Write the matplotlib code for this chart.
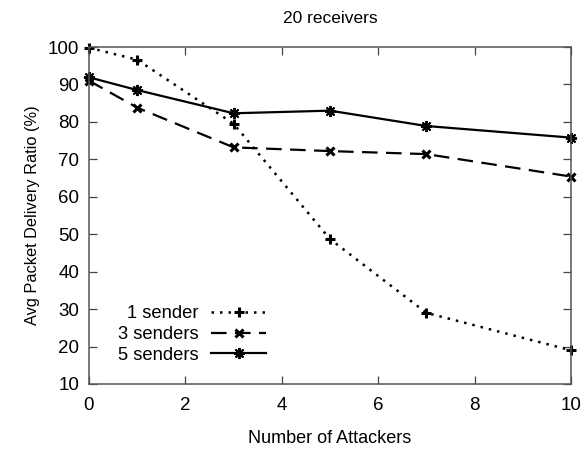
import matplotlib
matplotlib.use("Agg")
import matplotlib.pyplot as plt

plt.rcParams['font.family'] = ['Liberation Sans', 'DejaVu Sans']

attackers = [0, 1, 3, 5, 7, 10]
one_sender = [99.8, 96.6, 79.5, 48.7, 29.0, 19.0]
three_senders = [91.0, 83.8, 73.2, 72.2, 71.4, 65.4]
five_senders = [91.9, 88.5, 82.3, 83.0, 78.9, 75.8]

x_ticks = [0, 2, 4, 6, 8, 10]
y_ticks = [10, 20, 30, 40, 50, 60, 70, 80, 90, 100]

fig = plt.figure(figsize=(5.82, 4.53), dpi=100)
L, R, T, B = 89, 571, 47, 384
ax = fig.add_axes([L/582, 1-B/453, (R-L)/582, (B-T)/453])

ax.plot(attackers, one_sender, color='black', linestyle=(0, (1, 2.4)), linewidth=1.8,
        marker='+', markersize=7, markeredgewidth=2.2, label='1 sender', clip_on=False)
ax.plot(attackers, three_senders, color='black', linestyle=(0, (7.0, 3.8)), linewidth=1.6,
        marker='x', markersize=6, markeredgewidth=2.2, label='3 senders', clip_on=False)
ax.plot(attackers, five_senders, color='black', linestyle='-', linewidth=1.6,
        marker=(8, 2, 0), markersize=8, markeredgewidth=1.4, label='5 senders', clip_on=False)

ax.set_xlim(0, 10)
ax.set_ylim(10, 100)
ax.set_xticks(x_ticks)
ax.set_yticks(y_ticks)
ax.tick_params(direction='in', top=True, right=True, length=6, width=0.9,
               labelsize=13.5, color='#444444')
ax.tick_params(axis='x', pad=9)
ax.tick_params(axis='y', pad=7)
for s in ax.spines.values():
    s.set_linewidth(1.1)
    s.set_color('#555555')

ax.set_xlabel('Number of Attackers', fontsize=13, labelpad=12)
ax.set_ylabel('Avg Packet Delivery Ratio (%)', fontsize=11.8, labelpad=6)
ax.set_title('20 receivers', fontsize=12.5, pad=17)

leg = ax.legend(loc='lower right', bbox_to_anchor=((266-L)/(R-L), 0.06), frameon=False,
                markerfirst=False, fontsize=13.2, handlelength=3.0,
                labelspacing=0.2, handletextpad=0.7, borderaxespad=0, borderpad=0)
for t in leg.get_texts():
    t.set_ha('right')
leg._legend_box.align = 'right'

fig.savefig('out.png', dpi=100)
